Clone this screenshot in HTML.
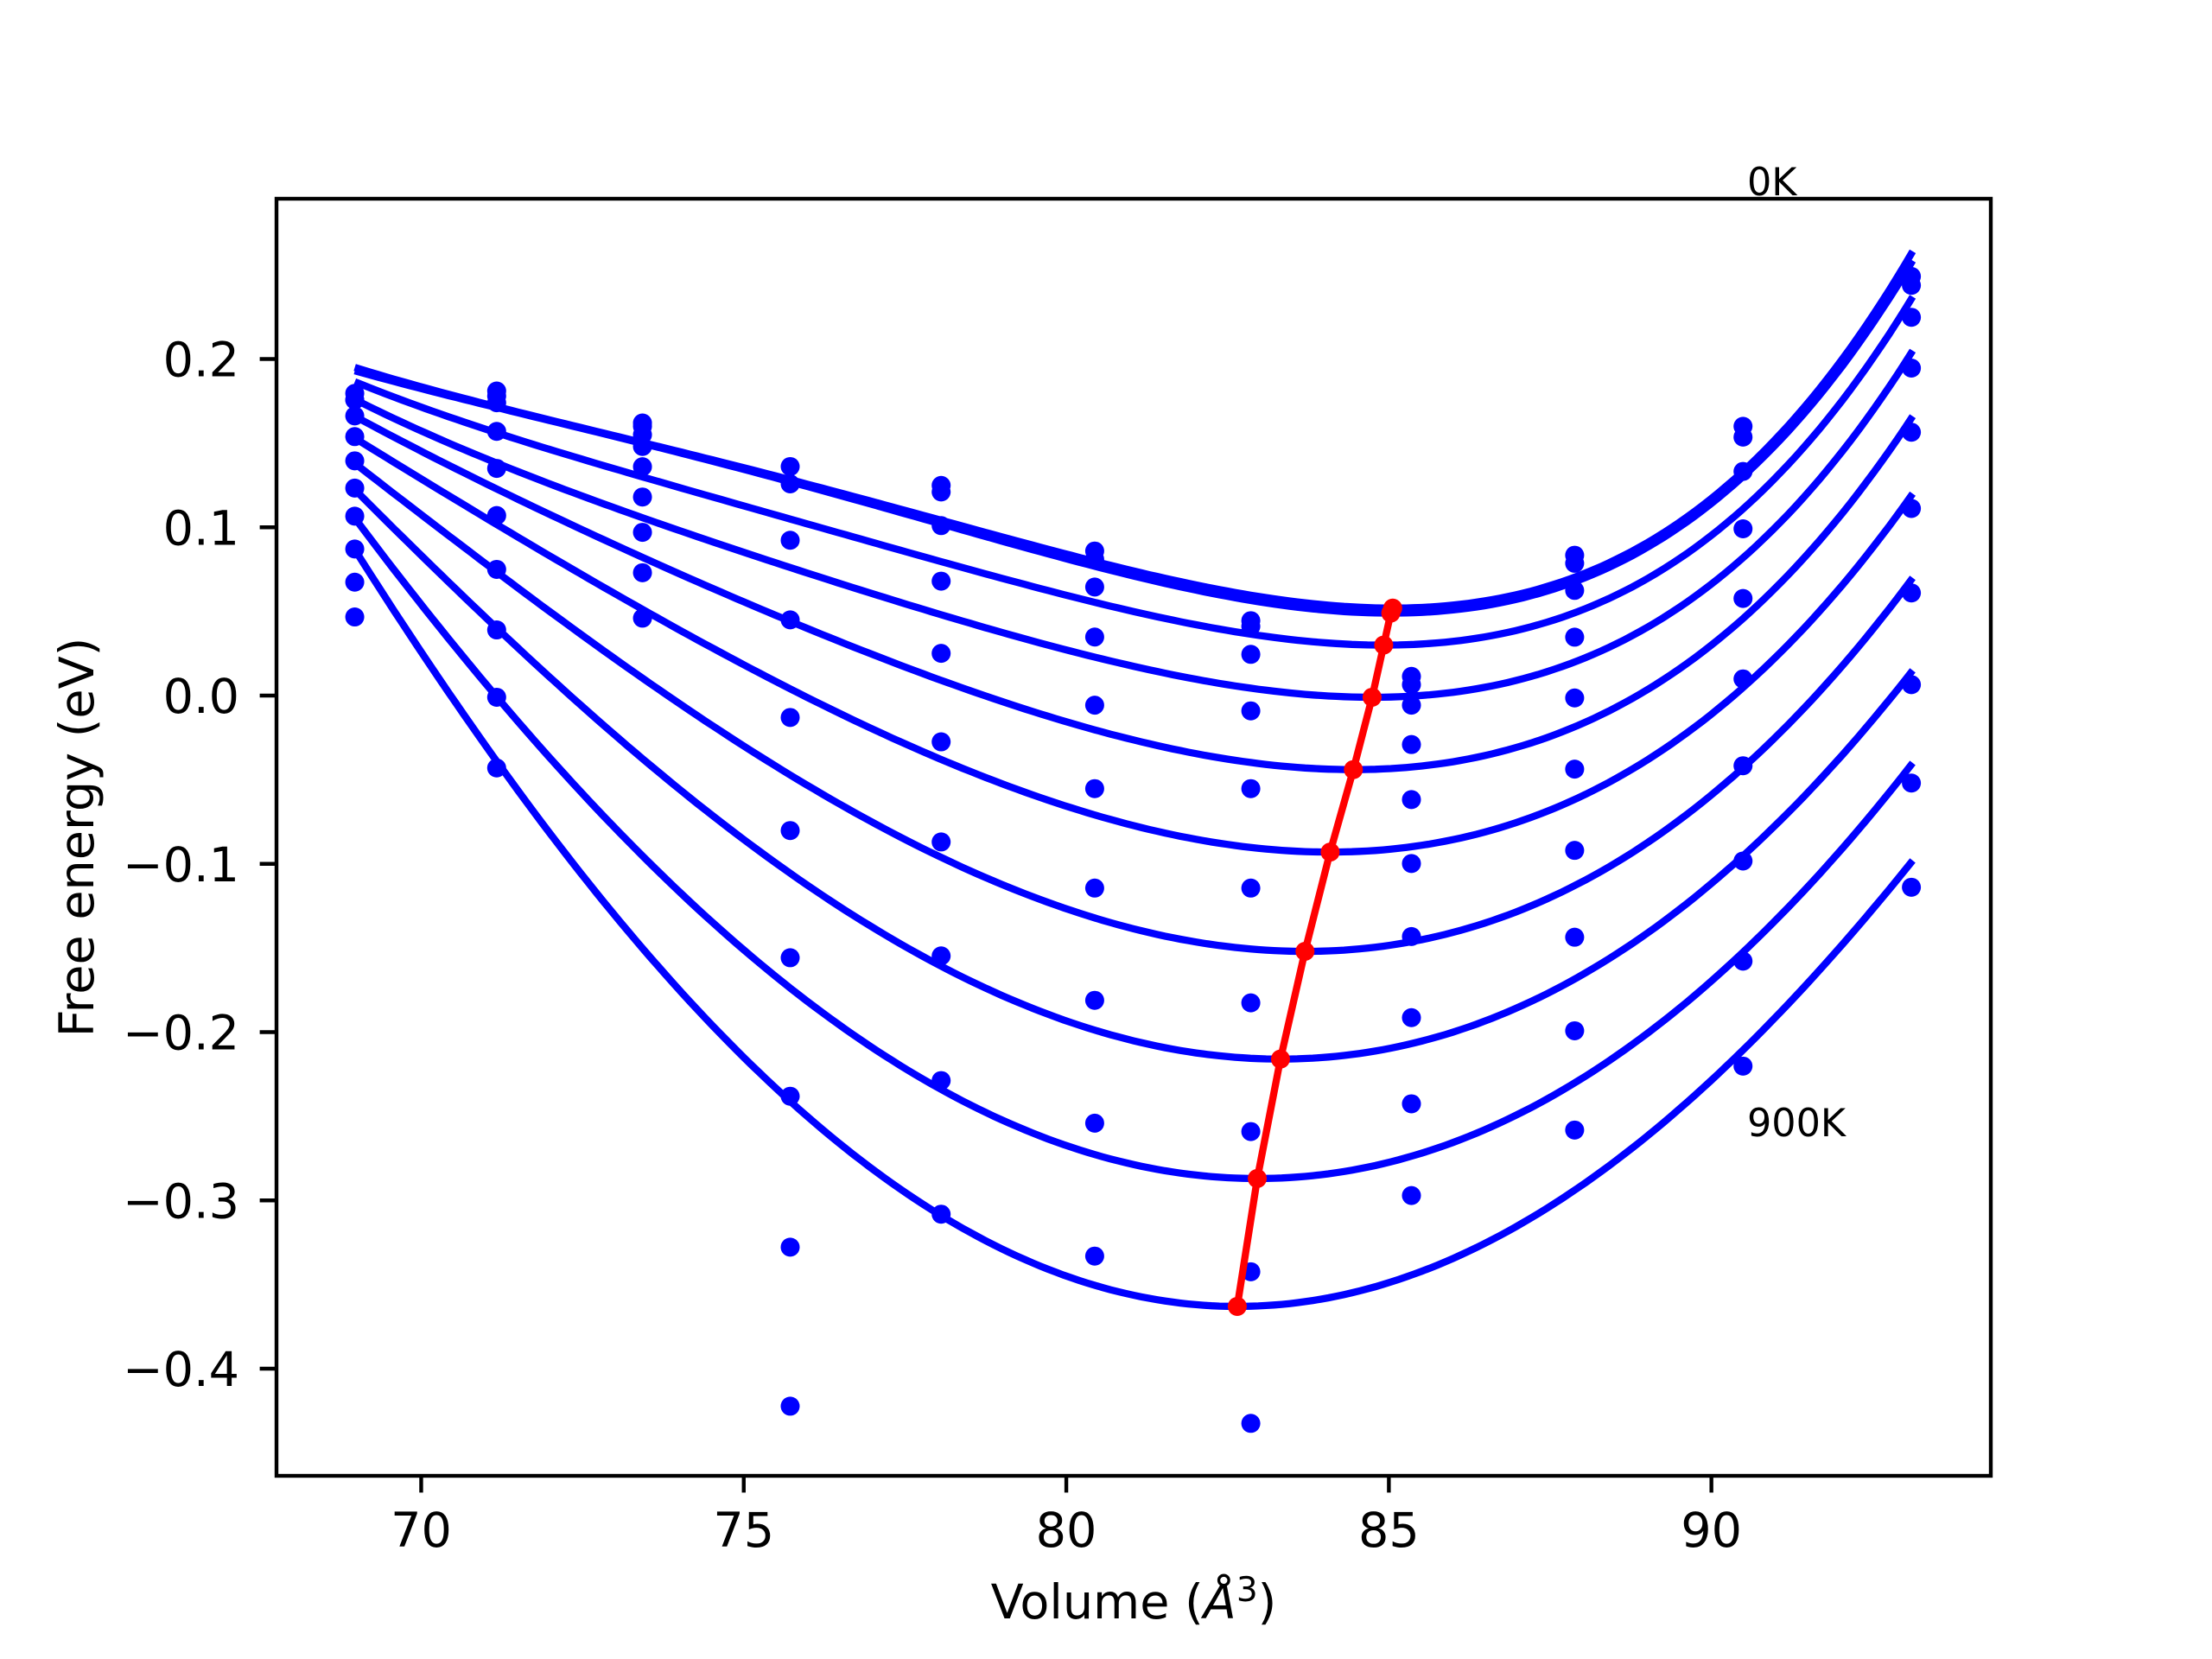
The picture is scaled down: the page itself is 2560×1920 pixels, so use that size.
<!DOCTYPE html>
<html><head><meta charset="utf-8">
<style>
html,body{margin:0;padding:0;background:#fff;}
svg{display:block;}
text{font-family:"DejaVu Sans","Liberation Sans",sans-serif;fill:#000;}
</style></head>
<body>
<svg id="chart" width="2560" height="1920" viewBox="0 0 2560 1920" xmlns="http://www.w3.org/2000/svg">
<rect x="0" y="0" width="2560" height="1920" fill="#fff"/>
<g id="marks"></g>
<g id="axes"></g>
</svg>
<script>
// ---- data ----
const temps = ["0K","100K","200K","300K","400K","500K","600K","700K","800K","900K"];
const minV = [85.06,85.03,84.92,84.74,84.45,84.09,83.70,83.32,82.96,82.65];
const minE = [0.052,0.049,0.030,-0.001,-0.044,-0.093,-0.152,-0.216,-0.287,-0.363];
const fitV = [68.97,75.72,93.12];
const leftE = [0.195,0.193,0.1865,0.176,0.166,0.153,0.138,0.1224,0.1055,0.0868];
const midE = [0.1283,0.127,0.1049,0.0761,0.0441,0.0040,-0.0472,-0.1056,-0.1738,-0.2411];
const rightE = [0.264,0.2585,0.237,0.205,0.166,0.120,0.070,0.015,-0.040,-0.098];
const volumes = [68.97,71.17,73.43,75.72,78.06,80.44,82.86,85.35,87.88,90.49,93.10];
const pts0 = [0.1796,0.1757,0.1757,0.1662,0.1539,0.1395,0.1233,0.1066,0.0871,0.0674,0.0467];
const pts1 = [0.181,0.178,0.174,0.157,0.135,0.107,0.075,0.039,-0.001,-0.043];
const pts2 = [0.162,0.160,0.155,0.148,0.136,0.118,0.097,0.073,0.046];
const pts3 = [0.1361,0.1258,0.0923,0.0450,-0.0130,-0.0802,-0.1558,-0.2381,-0.3278,-0.4223];
const pts4 = [0.1249,0.1210,0.1010,0.0680,0.0251,-0.0275,-0.0870,-0.1547,-0.2288,-0.3082];
const pts5 = [0.0859,0.0810,0.0645,0.0348,-0.0057,-0.0553,-0.1144,-0.1811,-0.2541,-0.3331];
const pts6 = [0.0445,0.0411,0.0245,-0.0091,-0.0553,-0.1144,-0.1826,-0.2591,-0.3424,-0.4325];
const pts7 = [0.0114,0.0065,-0.0057,-0.0291,-0.0618,-0.0998,-0.1432,-0.1914,-0.2426,-0.2971];
const pts8 = [0.0834,0.0786,0.0625,0.0347,-0.0014,-0.0437,-0.0920,-0.1436,-0.1992,-0.2582];
const pts9 = [0.1600,0.1536,0.1332,0.0991,0.0577,0.0099,-0.0417,-0.0983,-0.1578,-0.2202];
const pts10 = [0.2491,0.2438,0.2248,0.1946,0.1565,0.1112,0.0610,0.0065,-0.0520,-0.1139];
const points = [pts0,pts1,pts2,pts3,pts4,pts5,pts6,pts7,pts8,pts9,pts10];
const xTicks = [70,75,80,85,90];
const yTicks = [0.2,0.1,0.0,-0.1,-0.2,-0.3,-0.4];
const yTickLabels = ["0.2","0.1","0.0","\u22120.1","\u22120.2","\u22120.3","\u22120.4"];

// ---- axes mapping ----
const L=320,R=2304,T=230,B=1708;
const xMin=67.757, xPx=74.66;
function xs(v){return L+(v-xMin)*xPx;}
function ys(e){return 805-e*1947.5;}
const NS="http://www.w3.org/2000/svg";
function mk(tag,attrs,parent){const el=document.createElementNS(NS,tag);for(const k in attrs)el.setAttribute(k,attrs[k]);parent.appendChild(el);return el;}
const marks=document.getElementById('marks');
const axes=document.getElementById('axes');

function solve3(A,b){
  const M=A.map((r,i)=>r.concat([b[i]]));
  for(let i=0;i<3;i++){
    let p=i;for(let r=i+1;r<3;r++)if(Math.abs(M[r][i])>Math.abs(M[p][i]))p=r;
    [M[i],M[p]]=[M[p],M[i]];
    for(let r=0;r<3;r++){if(r===i)continue;const f=M[r][i]/M[i][i];for(let c=i;c<4;c++)M[r][c]-=f*M[i][c];}
  }
  return [M[0][3]/M[0][0],M[1][3]/M[1][1],M[2][3]/M[2][2]];
}

// curves
for(let k=0;k<temps.length;k++){
  const targ=[leftE[k],midE[k],rightE[k]];
  const A=[],bb=[];
  for(let j=0;j<3;j++){const d=fitV[j]-minV[k];A.push([d*d,d*d*d,d*d*d*d]);bb.push(targ[j]-minE[k]);}
  const c=solve3(A,bb);
  let dstr="";
  const n=200;
  for(let i=0;i<=n;i++){
    const v=fitV[0]+(fitV[2]-fitV[0])*i/n;const d=v-minV[k];
    const e=minE[k]+c[0]*d*d+c[1]*d*d*d+c[2]*d*d*d*d;
    dstr+=(i?"L":"M")+xs(v).toFixed(1)+","+ys(e).toFixed(1);
  }
  const p=mk('path',{d:dstr,fill:'none',stroke:'#0000ff','stroke-width':8.3},marks);
  
  
}
// data points
for(let i=0;i<volumes.length;i++){
  for(let j=0;j<points[i].length;j++){
    const c=mk('circle',{cx:xs(volumes[i]),cy:ys(points[i][j]),r:11,fill:'#0000ff'},marks);
    
    
  }
}
// minima line
let md="";
for(let k=0;k<minV.length;k++)md+=(k?"L":"M")+xs(minV[k]).toFixed(1)+","+ys(minE[k]).toFixed(1);
const ml=mk('path',{d:md,fill:'none',stroke:'#ff0000','stroke-width':8.3},marks);


for(let k=0;k<minV.length;k++){
  const c=mk('circle',{cx:xs(minV[k]),cy:ys(minE[k]),r:11,fill:'#ff0000'},marks);
  
  
}
// frame
const fr=mk('rect',{x:L,y:T,width:R-L,height:B-T,fill:'none',stroke:'#000','stroke-width':4.4},axes);


for(const t of xTicks){
  const x=xs(t);
  const ln=mk('line',{x1:x,y1:B,x2:x,y2:B+19.4,stroke:'#000','stroke-width':4.4},axes);
  
  
  const tx=mk('text',{x:x,y:1790,'font-size':55.6,'text-anchor':'middle'},axes);
  tx.textContent=String(t);
  
  
}
for(let i=0;i<yTicks.length;i++){
  const y=ys(yTicks[i]);
  const ln=mk('line',{x1:L-19.4,y1:y,x2:L,y2:y,stroke:'#000','stroke-width':4.4},axes);
  
  
  const tx=mk('text',{x:277,y:y+20,'font-size':55.6,'text-anchor':'end'},axes);
  tx.textContent=yTickLabels[i];
  
  
}
</script>
<svg style="position:absolute;left:0;top:0" width="2560" height="1920">
<text x="1312" y="1873" font-size="55.6" text-anchor="middle" style="font-family:'DejaVu Sans','Liberation Sans',sans-serif">Volume (<tspan font-style="italic">Å</tspan><tspan dy="-20" font-size="39">3</tspan><tspan dy="20">)</tspan></text>
<text x="0" y="0" font-size="55.6" text-anchor="middle" transform="translate(108,969) rotate(-90)" style="font-family:'DejaVu Sans','Liberation Sans',sans-serif">Free energy (eV)</text>
<text x="2022" y="226" font-size="44.5" style="font-family:'DejaVu Sans','Liberation Sans',sans-serif">0K</text>
<text x="2022" y="1315" font-size="44.5" style="font-family:'DejaVu Sans','Liberation Sans',sans-serif">900K</text>
</svg>
</body></html>
